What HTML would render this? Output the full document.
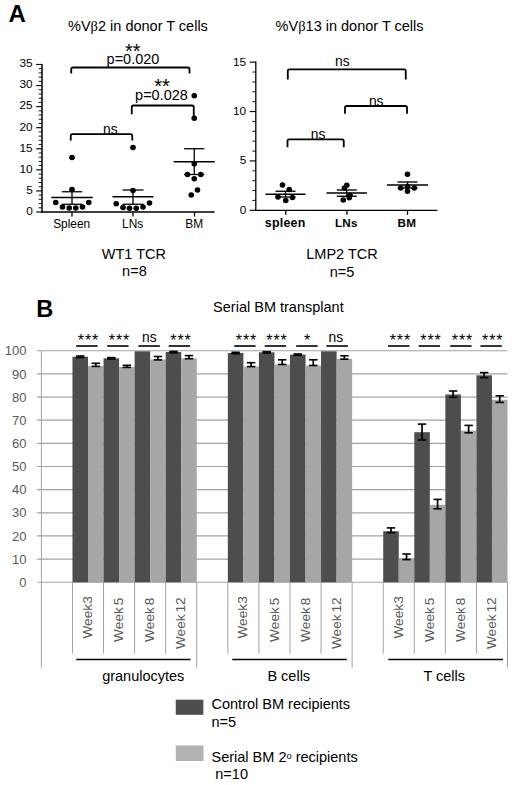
<!DOCTYPE html>
<html lang="en"><head><meta charset="utf-8"><title>Figure</title>
<style>html,body{margin:0;padding:0;background:#fff}svg{display:block}text{font-family:'Liberation Sans', Arial, sans-serif}</style>
</head><body>
<svg width="520" height="785" viewBox="0 0 520 785">
<rect width="520" height="785" fill="#fff"/>
<text x="8.6" y="21.6" font-size="24" text-anchor="start" font-weight="bold" fill="#000" >A</text>
<text x="68.0" y="31.2" font-size="14.5" text-anchor="start" font-weight="normal" fill="#000" >%V<tspan font-family="'Liberation Serif', serif">β</tspan>2 in donor T cells</text>
<line x1="42.0" y1="64" x2="42.0" y2="212.75" stroke="#000" stroke-width="1.5" stroke-linecap="butt"/>
<line x1="41.25" y1="212.0" x2="214.5" y2="212.0" stroke="#000" stroke-width="1.5" stroke-linecap="butt"/>
<line x1="36.2" y1="212.0" x2="42.0" y2="212.0" stroke="#000" stroke-width="1.15" stroke-linecap="butt"/>
<text x="32.7" y="214.8" font-size="11.8" text-anchor="end" font-weight="normal" fill="#000" >0</text>
<line x1="38.7" y1="207.785" x2="42.0" y2="207.785" stroke="#000" stroke-width="0.9" stroke-linecap="butt"/>
<line x1="38.7" y1="203.57" x2="42.0" y2="203.57" stroke="#000" stroke-width="0.9" stroke-linecap="butt"/>
<line x1="38.7" y1="199.355" x2="42.0" y2="199.355" stroke="#000" stroke-width="0.9" stroke-linecap="butt"/>
<line x1="38.7" y1="195.14" x2="42.0" y2="195.14" stroke="#000" stroke-width="0.9" stroke-linecap="butt"/>
<line x1="36.2" y1="190.925" x2="42.0" y2="190.925" stroke="#000" stroke-width="1.15" stroke-linecap="butt"/>
<text x="32.7" y="193.72500000000002" font-size="11.8" text-anchor="end" font-weight="normal" fill="#000" >5</text>
<line x1="38.7" y1="186.71" x2="42.0" y2="186.71" stroke="#000" stroke-width="0.9" stroke-linecap="butt"/>
<line x1="38.7" y1="182.495" x2="42.0" y2="182.495" stroke="#000" stroke-width="0.9" stroke-linecap="butt"/>
<line x1="38.7" y1="178.28" x2="42.0" y2="178.28" stroke="#000" stroke-width="0.9" stroke-linecap="butt"/>
<line x1="38.7" y1="174.065" x2="42.0" y2="174.065" stroke="#000" stroke-width="0.9" stroke-linecap="butt"/>
<line x1="36.2" y1="169.85" x2="42.0" y2="169.85" stroke="#000" stroke-width="1.15" stroke-linecap="butt"/>
<text x="32.7" y="172.65" font-size="11.8" text-anchor="end" font-weight="normal" fill="#000" >10</text>
<line x1="38.7" y1="165.635" x2="42.0" y2="165.635" stroke="#000" stroke-width="0.9" stroke-linecap="butt"/>
<line x1="38.7" y1="161.42000000000002" x2="42.0" y2="161.42000000000002" stroke="#000" stroke-width="0.9" stroke-linecap="butt"/>
<line x1="38.7" y1="157.20499999999998" x2="42.0" y2="157.20499999999998" stroke="#000" stroke-width="0.9" stroke-linecap="butt"/>
<line x1="38.7" y1="152.99" x2="42.0" y2="152.99" stroke="#000" stroke-width="0.9" stroke-linecap="butt"/>
<line x1="36.2" y1="148.775" x2="42.0" y2="148.775" stroke="#000" stroke-width="1.15" stroke-linecap="butt"/>
<text x="32.7" y="151.57500000000002" font-size="11.8" text-anchor="end" font-weight="normal" fill="#000" >15</text>
<line x1="38.7" y1="144.56" x2="42.0" y2="144.56" stroke="#000" stroke-width="0.9" stroke-linecap="butt"/>
<line x1="38.7" y1="140.345" x2="42.0" y2="140.345" stroke="#000" stroke-width="0.9" stroke-linecap="butt"/>
<line x1="38.7" y1="136.13" x2="42.0" y2="136.13" stroke="#000" stroke-width="0.9" stroke-linecap="butt"/>
<line x1="38.7" y1="131.91500000000002" x2="42.0" y2="131.91500000000002" stroke="#000" stroke-width="0.9" stroke-linecap="butt"/>
<line x1="36.2" y1="127.7" x2="42.0" y2="127.7" stroke="#000" stroke-width="1.15" stroke-linecap="butt"/>
<text x="32.7" y="130.5" font-size="11.8" text-anchor="end" font-weight="normal" fill="#000" >20</text>
<line x1="38.7" y1="123.485" x2="42.0" y2="123.485" stroke="#000" stroke-width="0.9" stroke-linecap="butt"/>
<line x1="38.7" y1="119.27000000000001" x2="42.0" y2="119.27000000000001" stroke="#000" stroke-width="0.9" stroke-linecap="butt"/>
<line x1="38.7" y1="115.055" x2="42.0" y2="115.055" stroke="#000" stroke-width="0.9" stroke-linecap="butt"/>
<line x1="38.7" y1="110.84" x2="42.0" y2="110.84" stroke="#000" stroke-width="0.9" stroke-linecap="butt"/>
<line x1="36.2" y1="106.625" x2="42.0" y2="106.625" stroke="#000" stroke-width="1.15" stroke-linecap="butt"/>
<text x="32.7" y="109.425" font-size="11.8" text-anchor="end" font-weight="normal" fill="#000" >25</text>
<line x1="38.7" y1="102.41" x2="42.0" y2="102.41" stroke="#000" stroke-width="0.9" stroke-linecap="butt"/>
<line x1="38.7" y1="98.19500000000001" x2="42.0" y2="98.19500000000001" stroke="#000" stroke-width="0.9" stroke-linecap="butt"/>
<line x1="38.7" y1="93.98" x2="42.0" y2="93.98" stroke="#000" stroke-width="0.9" stroke-linecap="butt"/>
<line x1="38.7" y1="89.765" x2="42.0" y2="89.765" stroke="#000" stroke-width="0.9" stroke-linecap="butt"/>
<line x1="36.2" y1="85.55000000000001" x2="42.0" y2="85.55000000000001" stroke="#000" stroke-width="1.15" stroke-linecap="butt"/>
<text x="32.7" y="88.35000000000001" font-size="11.8" text-anchor="end" font-weight="normal" fill="#000" >30</text>
<line x1="38.7" y1="81.33500000000001" x2="42.0" y2="81.33500000000001" stroke="#000" stroke-width="0.9" stroke-linecap="butt"/>
<line x1="38.7" y1="77.12" x2="42.0" y2="77.12" stroke="#000" stroke-width="0.9" stroke-linecap="butt"/>
<line x1="38.7" y1="72.905" x2="42.0" y2="72.905" stroke="#000" stroke-width="0.9" stroke-linecap="butt"/>
<line x1="38.7" y1="68.69" x2="42.0" y2="68.69" stroke="#000" stroke-width="0.9" stroke-linecap="butt"/>
<line x1="36.2" y1="64.475" x2="42.0" y2="64.475" stroke="#000" stroke-width="1.15" stroke-linecap="butt"/>
<text x="32.7" y="67.27499999999999" font-size="11.8" text-anchor="end" font-weight="normal" fill="#000" >35</text>
<line x1="72" y1="212.0" x2="72" y2="216.5" stroke="#000" stroke-width="1.3" stroke-linecap="butt"/>
<text x="71.7" y="227.7" font-size="11.9" text-anchor="middle" font-weight="normal" fill="#000" >Spleen</text>
<line x1="133" y1="212.0" x2="133" y2="216.5" stroke="#000" stroke-width="1.3" stroke-linecap="butt"/>
<text x="132.7" y="227.7" font-size="11.9" text-anchor="middle" font-weight="normal" fill="#000" >LNs</text>
<line x1="194.5" y1="212.0" x2="194.5" y2="216.5" stroke="#000" stroke-width="1.3" stroke-linecap="butt"/>
<text x="194.2" y="227.7" font-size="11.9" text-anchor="middle" font-weight="normal" fill="#000" >BM</text>
<text x="133.9" y="258.9" font-size="14.5" text-anchor="middle" font-weight="normal" fill="#000" >WT1 TCR</text>
<text x="134.4" y="275.75" font-size="14.5" text-anchor="middle" font-weight="normal" fill="#000" >n=8</text>
<line x1="51.3" y1="197.5" x2="92.7" y2="197.5" stroke="#000" stroke-width="1.3" stroke-linecap="butt"/>
<line x1="61.8" y1="191.75" x2="82.2" y2="191.75" stroke="#000" stroke-width="1.3" stroke-linecap="butt"/>
<line x1="61.8" y1="204.25" x2="82.2" y2="204.25" stroke="#000" stroke-width="1.3" stroke-linecap="butt"/>
<line x1="72" y1="191.75" x2="72" y2="204.25" stroke="#000" stroke-width="1.3" stroke-linecap="butt"/>
<circle cx="72" cy="157.5" r="2.8" fill="#000"/>
<circle cx="72" cy="189.5" r="2.8" fill="#000"/>
<circle cx="55.75" cy="202.5" r="2.8" fill="#000"/>
<circle cx="88.75" cy="202.5" r="2.8" fill="#000"/>
<circle cx="62.5" cy="207" r="2.8" fill="#000"/>
<circle cx="69.25" cy="208" r="2.8" fill="#000"/>
<circle cx="75.75" cy="208" r="2.8" fill="#000"/>
<circle cx="82.5" cy="207" r="2.8" fill="#000"/>
<line x1="112.5" y1="196.75" x2="153.5" y2="196.75" stroke="#000" stroke-width="1.3" stroke-linecap="butt"/>
<line x1="122.5" y1="190" x2="143.5" y2="190" stroke="#000" stroke-width="1.3" stroke-linecap="butt"/>
<line x1="122.5" y1="204.25" x2="143.5" y2="204.25" stroke="#000" stroke-width="1.3" stroke-linecap="butt"/>
<line x1="133" y1="190" x2="133" y2="204.25" stroke="#000" stroke-width="1.3" stroke-linecap="butt"/>
<circle cx="133" cy="147.5" r="2.8" fill="#000"/>
<circle cx="133" cy="190.5" r="2.8" fill="#000"/>
<circle cx="116.25" cy="203.75" r="2.8" fill="#000"/>
<circle cx="149.5" cy="203" r="2.8" fill="#000"/>
<circle cx="123" cy="207.5" r="2.8" fill="#000"/>
<circle cx="129.5" cy="208.25" r="2.8" fill="#000"/>
<circle cx="136.25" cy="208.25" r="2.8" fill="#000"/>
<circle cx="143" cy="207" r="2.8" fill="#000"/>
<line x1="173.65" y1="161.75" x2="214.85" y2="161.75" stroke="#000" stroke-width="1.3" stroke-linecap="butt"/>
<line x1="184.15" y1="148.75" x2="204.35" y2="148.75" stroke="#000" stroke-width="1.3" stroke-linecap="butt"/>
<line x1="184.15" y1="174.5" x2="204.35" y2="174.5" stroke="#000" stroke-width="1.3" stroke-linecap="butt"/>
<line x1="194.25" y1="148.75" x2="194.25" y2="174.5" stroke="#000" stroke-width="1.3" stroke-linecap="butt"/>
<circle cx="194.25" cy="95.75" r="2.8" fill="#000"/>
<circle cx="194.25" cy="118.25" r="2.8" fill="#000"/>
<circle cx="194.25" cy="163.75" r="2.8" fill="#000"/>
<circle cx="187.5" cy="174.5" r="2.8" fill="#000"/>
<circle cx="200.75" cy="174.5" r="2.8" fill="#000"/>
<circle cx="194.25" cy="178.75" r="2.8" fill="#000"/>
<circle cx="197.5" cy="190" r="2.8" fill="#000"/>
<circle cx="191.25" cy="195" r="2.8" fill="#000"/>
<path d="M71.25 73.5 V69.1 Q71.25 67.5 72.85 67.5 H187.9 Q189.5 67.5 189.5 69.1 V73.5" fill="none" stroke="#000" stroke-width="1.8" stroke-linejoin="round"/>
<path d="M131.75 114.3 V107.1 Q131.75 105.5 133.35 105.5 H192.15 Q193.75 105.5 193.75 107.1 V116" fill="none" stroke="#000" stroke-width="1.8" stroke-linejoin="round"/>
<path d="M70.75 140.4 V135.79999999999998 Q70.75 134.2 72.35 134.2 H130.65 Q132.25 134.2 132.25 135.79999999999998 V140.4" fill="none" stroke="#000" stroke-width="1.8" stroke-linejoin="round"/>
<text x="132.75" y="57.5" font-size="20" text-anchor="middle" font-weight="normal" fill="#000" >**</text>
<text x="133" y="63.8" font-size="14.5" text-anchor="middle" font-weight="normal" fill="#000" >p=0.020</text>
<text x="162" y="92.5" font-size="20" text-anchor="middle" font-weight="normal" fill="#000" >**</text>
<text x="161.5" y="100.3" font-size="14.5" text-anchor="middle" font-weight="normal" fill="#000" >p=0.028</text>
<text x="110.3" y="133.6" font-size="13.8" text-anchor="middle" font-weight="normal" fill="#000" >ns</text>
<text x="275.6" y="31.2" font-size="14.5" text-anchor="start" font-weight="normal" fill="#000" >%V<tspan font-family="'Liberation Serif', serif">β</tspan>13 in donor T cells</text>
<line x1="255.8" y1="61.5" x2="255.8" y2="210.9" stroke="#000" stroke-width="1.3" stroke-linecap="butt"/>
<line x1="255.15" y1="210.3" x2="437.5" y2="210.3" stroke="#000" stroke-width="1.3" stroke-linecap="butt"/>
<line x1="249.8" y1="210.3" x2="255.8" y2="210.3" stroke="#000" stroke-width="1.15" stroke-linecap="butt"/>
<text x="246.20000000000002" y="213.70000000000002" font-size="11.8" text-anchor="end" font-weight="normal" fill="#000" >0</text>
<line x1="252.3" y1="200.425" x2="255.8" y2="200.425" stroke="#000" stroke-width="0.9" stroke-linecap="butt"/>
<line x1="252.3" y1="190.55" x2="255.8" y2="190.55" stroke="#000" stroke-width="0.9" stroke-linecap="butt"/>
<line x1="252.3" y1="180.675" x2="255.8" y2="180.675" stroke="#000" stroke-width="0.9" stroke-linecap="butt"/>
<line x1="252.3" y1="170.8" x2="255.8" y2="170.8" stroke="#000" stroke-width="0.9" stroke-linecap="butt"/>
<line x1="249.8" y1="160.925" x2="255.8" y2="160.925" stroke="#000" stroke-width="1.15" stroke-linecap="butt"/>
<text x="246.20000000000002" y="164.32500000000002" font-size="11.8" text-anchor="end" font-weight="normal" fill="#000" >5</text>
<line x1="252.3" y1="151.05" x2="255.8" y2="151.05" stroke="#000" stroke-width="0.9" stroke-linecap="butt"/>
<line x1="252.3" y1="141.175" x2="255.8" y2="141.175" stroke="#000" stroke-width="0.9" stroke-linecap="butt"/>
<line x1="252.3" y1="131.3" x2="255.8" y2="131.3" stroke="#000" stroke-width="0.9" stroke-linecap="butt"/>
<line x1="252.3" y1="121.42500000000001" x2="255.8" y2="121.42500000000001" stroke="#000" stroke-width="0.9" stroke-linecap="butt"/>
<line x1="249.8" y1="111.55000000000001" x2="255.8" y2="111.55000000000001" stroke="#000" stroke-width="1.15" stroke-linecap="butt"/>
<text x="246.20000000000002" y="114.95000000000002" font-size="11.8" text-anchor="end" font-weight="normal" fill="#000" >10</text>
<line x1="252.3" y1="101.67500000000001" x2="255.8" y2="101.67500000000001" stroke="#000" stroke-width="0.9" stroke-linecap="butt"/>
<line x1="252.3" y1="91.80000000000001" x2="255.8" y2="91.80000000000001" stroke="#000" stroke-width="0.9" stroke-linecap="butt"/>
<line x1="252.3" y1="81.92500000000001" x2="255.8" y2="81.92500000000001" stroke="#000" stroke-width="0.9" stroke-linecap="butt"/>
<line x1="252.3" y1="72.05000000000001" x2="255.8" y2="72.05000000000001" stroke="#000" stroke-width="0.9" stroke-linecap="butt"/>
<line x1="249.8" y1="62.17500000000001" x2="255.8" y2="62.17500000000001" stroke="#000" stroke-width="1.15" stroke-linecap="butt"/>
<text x="246.20000000000002" y="65.57500000000002" font-size="11.8" text-anchor="end" font-weight="normal" fill="#000" >15</text>
<line x1="285.75" y1="210.3" x2="285.75" y2="214.8" stroke="#000" stroke-width="1.3" stroke-linecap="butt"/>
<text x="285.15" y="227.0" font-size="12.4" text-anchor="middle" font-weight="bold" fill="#000" letter-spacing="0.25">spleen</text>
<line x1="347" y1="210.3" x2="347" y2="214.8" stroke="#000" stroke-width="1.3" stroke-linecap="butt"/>
<text x="346.4" y="227.0" font-size="11.7" text-anchor="middle" font-weight="bold" fill="#000" letter-spacing="0.25">LNs</text>
<line x1="407.5" y1="210.3" x2="407.5" y2="214.8" stroke="#000" stroke-width="1.3" stroke-linecap="butt"/>
<text x="406.9" y="227.0" font-size="11.7" text-anchor="middle" font-weight="bold" fill="#000" letter-spacing="0.25">BM</text>
<text x="342" y="258.9" font-size="14.5" text-anchor="middle" font-weight="normal" fill="#000" >LMP2 TCR</text>
<text x="342" y="276.7" font-size="14.5" text-anchor="middle" font-weight="normal" fill="#000" >n=5</text>
<line x1="265.5" y1="194.25" x2="305.5" y2="194.25" stroke="#000" stroke-width="1.35" stroke-linecap="butt"/>
<line x1="275.5" y1="191.25" x2="295.5" y2="191.25" stroke="#000" stroke-width="1.35" stroke-linecap="butt"/>
<line x1="275.5" y1="197" x2="295.5" y2="197" stroke="#000" stroke-width="1.35" stroke-linecap="butt"/>
<line x1="285.5" y1="191.25" x2="285.5" y2="197" stroke="#000" stroke-width="1.35" stroke-linecap="butt"/>
<circle cx="282.5" cy="185" r="2.8" fill="#000"/>
<circle cx="289.25" cy="189.5" r="2.8" fill="#000"/>
<circle cx="278" cy="197" r="2.8" fill="#000"/>
<circle cx="292.5" cy="197.5" r="2.8" fill="#000"/>
<circle cx="285.75" cy="200.5" r="2.8" fill="#000"/>
<line x1="326.55" y1="193" x2="366.95" y2="193" stroke="#000" stroke-width="1.35" stroke-linecap="butt"/>
<line x1="336.75" y1="190" x2="356.75" y2="190" stroke="#000" stroke-width="1.35" stroke-linecap="butt"/>
<line x1="336.75" y1="196.25" x2="356.75" y2="196.25" stroke="#000" stroke-width="1.35" stroke-linecap="butt"/>
<line x1="346.75" y1="190" x2="346.75" y2="196.25" stroke="#000" stroke-width="1.35" stroke-linecap="butt"/>
<circle cx="346.75" cy="185.25" r="2.8" fill="#000"/>
<circle cx="344.4" cy="188" r="2.8" fill="#000"/>
<circle cx="350" cy="195.25" r="2.8" fill="#000"/>
<circle cx="349.25" cy="197.75" r="2.8" fill="#000"/>
<circle cx="343.25" cy="200" r="2.8" fill="#000"/>
<line x1="386.9" y1="185" x2="428.1" y2="185" stroke="#000" stroke-width="1.35" stroke-linecap="butt"/>
<line x1="397.5" y1="182" x2="417.5" y2="182" stroke="#000" stroke-width="1.35" stroke-linecap="butt"/>
<line x1="397.5" y1="188" x2="417.5" y2="188" stroke="#000" stroke-width="1.35" stroke-linecap="butt"/>
<line x1="407.5" y1="182" x2="407.5" y2="188" stroke="#000" stroke-width="1.35" stroke-linecap="butt"/>
<circle cx="407.5" cy="174.25" r="2.8" fill="#000"/>
<circle cx="400.75" cy="188" r="2.8" fill="#000"/>
<circle cx="414.25" cy="188" r="2.8" fill="#000"/>
<circle cx="407.5" cy="191.25" r="2.8" fill="#000"/>
<circle cx="407.5" cy="186.5" r="2.8" fill="#000"/>
<path d="M287.8 79.5 V71.0 Q287.8 69.4 289.40000000000003 69.4 H404.15 Q405.75 69.4 405.75 71.0 V79.5" fill="none" stroke="#000" stroke-width="1.8" stroke-linejoin="round"/>
<path d="M345 113.8 V107.6 Q345 106 346.6 106 H405.4 Q407 106 407 107.6 V113.8" fill="none" stroke="#000" stroke-width="1.8" stroke-linejoin="round"/>
<path d="M287.5 147.2 V140.9 Q287.5 139.3 289.1 139.3 H342.15 Q343.75 139.3 343.75 140.9 V147.2" fill="none" stroke="#000" stroke-width="1.8" stroke-linejoin="round"/>
<text x="342.4" y="65.5" font-size="13.8" text-anchor="middle" font-weight="normal" fill="#000" >ns</text>
<text x="376.2" y="105.6" font-size="13.8" text-anchor="middle" font-weight="normal" fill="#000" >ns</text>
<text x="318" y="139.0" font-size="13.8" text-anchor="middle" font-weight="normal" fill="#000" >ns</text>
<text x="36.3" y="317.0" font-size="23.6" text-anchor="start" font-weight="bold" fill="#000" >B</text>
<text x="278.4" y="311.7" font-size="14.5" text-anchor="middle" font-weight="normal" fill="#000" >Serial BM transplant</text>
<line x1="37.0" y1="582.25" x2="507.5" y2="582.25" stroke="#a3a3a3" stroke-width="1.2" stroke-linecap="butt"/>
<text x="26.4" y="586.85" font-size="13" text-anchor="end" font-weight="normal" fill="#595959" >0</text>
<line x1="37.0" y1="559.1" x2="507.5" y2="559.1" stroke="#a3a3a3" stroke-width="1.2" stroke-linecap="butt"/>
<text x="26.4" y="563.7" font-size="13" text-anchor="end" font-weight="normal" fill="#595959" >10</text>
<line x1="37.0" y1="535.95" x2="507.5" y2="535.95" stroke="#a3a3a3" stroke-width="1.2" stroke-linecap="butt"/>
<text x="26.4" y="540.5500000000001" font-size="13" text-anchor="end" font-weight="normal" fill="#595959" >20</text>
<line x1="37.0" y1="512.8" x2="507.5" y2="512.8" stroke="#a3a3a3" stroke-width="1.2" stroke-linecap="butt"/>
<text x="26.4" y="517.4" font-size="13" text-anchor="end" font-weight="normal" fill="#595959" >30</text>
<line x1="37.0" y1="489.65" x2="507.5" y2="489.65" stroke="#a3a3a3" stroke-width="1.2" stroke-linecap="butt"/>
<text x="26.4" y="494.25" font-size="13" text-anchor="end" font-weight="normal" fill="#595959" >40</text>
<line x1="37.0" y1="466.5" x2="507.5" y2="466.5" stroke="#a3a3a3" stroke-width="1.2" stroke-linecap="butt"/>
<text x="26.4" y="471.1" font-size="13" text-anchor="end" font-weight="normal" fill="#595959" >50</text>
<line x1="37.0" y1="443.35" x2="507.5" y2="443.35" stroke="#a3a3a3" stroke-width="1.2" stroke-linecap="butt"/>
<text x="26.4" y="447.95000000000005" font-size="13" text-anchor="end" font-weight="normal" fill="#595959" >60</text>
<line x1="37.0" y1="420.20000000000005" x2="507.5" y2="420.20000000000005" stroke="#a3a3a3" stroke-width="1.2" stroke-linecap="butt"/>
<text x="26.4" y="424.80000000000007" font-size="13" text-anchor="end" font-weight="normal" fill="#595959" >70</text>
<line x1="37.0" y1="397.05" x2="507.5" y2="397.05" stroke="#a3a3a3" stroke-width="1.2" stroke-linecap="butt"/>
<text x="26.4" y="401.65000000000003" font-size="13" text-anchor="end" font-weight="normal" fill="#595959" >80</text>
<line x1="37.0" y1="373.9" x2="507.5" y2="373.9" stroke="#a3a3a3" stroke-width="1.2" stroke-linecap="butt"/>
<text x="26.4" y="378.5" font-size="13" text-anchor="end" font-weight="normal" fill="#595959" >90</text>
<line x1="37.0" y1="350.75" x2="507.5" y2="350.75" stroke="#a3a3a3" stroke-width="1.2" stroke-linecap="butt"/>
<text x="26.4" y="355.35" font-size="13" text-anchor="end" font-weight="normal" fill="#595959" >100</text>
<line x1="41.4" y1="350.75" x2="41.4" y2="667.5" stroke="#a3a3a3" stroke-width="1" stroke-linecap="butt"/>
<rect x="72.47" y="356.75" width="15.54" height="225.50" fill="#4d4d4d"/>
<rect x="88.01" y="366.00" width="15.54" height="216.25" fill="#a6a6a6"/>
<line x1="80.24166666666666" y1="356.0" x2="80.24166666666666" y2="357.5" stroke="#000" stroke-width="1.7" stroke-linecap="butt"/>
<line x1="76.04166666666666" y1="356.0" x2="84.44166666666666" y2="356.0" stroke="#000" stroke-width="1.6" stroke-linecap="butt"/>
<line x1="76.04166666666666" y1="357.5" x2="84.44166666666666" y2="357.5" stroke="#000" stroke-width="1.6" stroke-linecap="butt"/>
<line x1="95.77833333333332" y1="363.3" x2="95.77833333333332" y2="366.4" stroke="#000" stroke-width="1.7" stroke-linecap="butt"/>
<line x1="91.57833333333332" y1="363.3" x2="99.97833333333332" y2="363.3" stroke="#000" stroke-width="1.6" stroke-linecap="butt"/>
<line x1="91.57833333333332" y1="366.4" x2="99.97833333333332" y2="366.4" stroke="#000" stroke-width="1.6" stroke-linecap="butt"/>
<line x1="72.47333333333333" y1="582.25" x2="72.47333333333333" y2="653.75" stroke="#a3a3a3" stroke-width="1" stroke-linecap="butt"/>
<text transform="translate(92.11,617.40) rotate(-90)" font-size="13.7" text-anchor="middle" word-spacing="-2.0" fill="#595959">Week3</text>
<line x1="76.2" y1="346.0" x2="97.60000000000001" y2="346.0" stroke="#000" stroke-width="1.6" stroke-linecap="butt"/>
<text x="88.5" y="345.7" font-size="16" text-anchor="middle" font-weight="normal" fill="#000" letter-spacing="0.9">***</text>
<rect x="103.55" y="358.30" width="15.54" height="223.95" fill="#4d4d4d"/>
<rect x="119.08" y="367.00" width="15.54" height="215.25" fill="#a6a6a6"/>
<line x1="111.315" y1="357.6" x2="111.315" y2="359.0" stroke="#000" stroke-width="1.7" stroke-linecap="butt"/>
<line x1="107.115" y1="357.6" x2="115.515" y2="357.6" stroke="#000" stroke-width="1.6" stroke-linecap="butt"/>
<line x1="107.115" y1="359.0" x2="115.515" y2="359.0" stroke="#000" stroke-width="1.6" stroke-linecap="butt"/>
<line x1="126.85166666666666" y1="365.3" x2="126.85166666666666" y2="367.4" stroke="#000" stroke-width="1.7" stroke-linecap="butt"/>
<line x1="122.65166666666666" y1="365.3" x2="131.05166666666665" y2="365.3" stroke="#000" stroke-width="1.6" stroke-linecap="butt"/>
<line x1="122.65166666666666" y1="367.4" x2="131.05166666666665" y2="367.4" stroke="#000" stroke-width="1.6" stroke-linecap="butt"/>
<line x1="103.54666666666667" y1="582.25" x2="103.54666666666667" y2="653.75" stroke="#a3a3a3" stroke-width="1" stroke-linecap="butt"/>
<text transform="translate(123.18,619.80) rotate(-90)" font-size="13.7" text-anchor="middle" word-spacing="-2.0" fill="#595959">Week 5</text>
<line x1="107.2" y1="346.0" x2="128.6" y2="346.0" stroke="#000" stroke-width="1.6" stroke-linecap="butt"/>
<text x="119.5" y="345.7" font-size="16" text-anchor="middle" font-weight="normal" fill="#000" letter-spacing="0.9">***</text>
<rect x="134.62" y="351.30" width="15.54" height="230.95" fill="#4d4d4d"/>
<rect x="150.16" y="359.50" width="15.54" height="222.75" fill="#a6a6a6"/>
<line x1="157.925" y1="356.5" x2="157.925" y2="359.9" stroke="#000" stroke-width="1.7" stroke-linecap="butt"/>
<line x1="153.72500000000002" y1="356.5" x2="162.125" y2="356.5" stroke="#000" stroke-width="1.6" stroke-linecap="butt"/>
<line x1="153.72500000000002" y1="359.9" x2="162.125" y2="359.9" stroke="#000" stroke-width="1.6" stroke-linecap="butt"/>
<line x1="134.62" y1="582.25" x2="134.62" y2="653.75" stroke="#a3a3a3" stroke-width="1" stroke-linecap="butt"/>
<text transform="translate(154.26,619.80) rotate(-90)" font-size="13.7" text-anchor="middle" word-spacing="-2.0" fill="#595959">Week 8</text>
<line x1="138.4" y1="346.0" x2="159.79999999999998" y2="346.0" stroke="#000" stroke-width="1.6" stroke-linecap="butt"/>
<text x="149.4" y="341.6" font-size="13.8" text-anchor="middle" font-weight="normal" fill="#000" >ns</text>
<rect x="165.69" y="352.00" width="15.54" height="230.25" fill="#4d4d4d"/>
<rect x="181.23" y="358.30" width="15.54" height="223.95" fill="#a6a6a6"/>
<line x1="173.46166666666667" y1="351.4" x2="173.46166666666667" y2="352.8" stroke="#000" stroke-width="1.7" stroke-linecap="butt"/>
<line x1="169.26166666666668" y1="351.4" x2="177.66166666666666" y2="351.4" stroke="#000" stroke-width="1.6" stroke-linecap="butt"/>
<line x1="169.26166666666668" y1="352.8" x2="177.66166666666666" y2="352.8" stroke="#000" stroke-width="1.6" stroke-linecap="butt"/>
<line x1="188.99833333333333" y1="355.6" x2="188.99833333333333" y2="358.7" stroke="#000" stroke-width="1.7" stroke-linecap="butt"/>
<line x1="184.79833333333335" y1="355.6" x2="193.19833333333332" y2="355.6" stroke="#000" stroke-width="1.6" stroke-linecap="butt"/>
<line x1="184.79833333333335" y1="358.7" x2="193.19833333333332" y2="358.7" stroke="#000" stroke-width="1.6" stroke-linecap="butt"/>
<line x1="165.69333333333333" y1="582.25" x2="165.69333333333333" y2="653.75" stroke="#a3a3a3" stroke-width="1" stroke-linecap="butt"/>
<text transform="translate(185.33,623.20) rotate(-90)" font-size="13.7" text-anchor="middle" word-spacing="-2.0" fill="#595959">Week 12</text>
<line x1="168.70000000000002" y1="346.0" x2="190.1" y2="346.0" stroke="#000" stroke-width="1.6" stroke-linecap="butt"/>
<text x="181.0" y="345.7" font-size="16" text-anchor="middle" font-weight="normal" fill="#000" letter-spacing="0.9">***</text>
<line x1="196.76666666666668" y1="582.25" x2="196.76666666666668" y2="667.5" stroke="#a3a3a3" stroke-width="1" stroke-linecap="butt"/>
<line x1="76.25" y1="659.5" x2="190.5" y2="659.5" stroke="#000" stroke-width="1.6" stroke-linecap="butt"/>
<text x="143.25" y="680.6" font-size="14.5" text-anchor="middle" font-weight="normal" fill="#000" >granulocytes</text>
<rect x="227.84" y="353.00" width="15.54" height="229.25" fill="#4d4d4d"/>
<rect x="243.38" y="366.60" width="15.54" height="215.65" fill="#a6a6a6"/>
<line x1="235.60833333333335" y1="352.3" x2="235.60833333333335" y2="353.7" stroke="#000" stroke-width="1.7" stroke-linecap="butt"/>
<line x1="231.40833333333336" y1="352.3" x2="239.80833333333334" y2="352.3" stroke="#000" stroke-width="1.6" stroke-linecap="butt"/>
<line x1="231.40833333333336" y1="353.7" x2="239.80833333333334" y2="353.7" stroke="#000" stroke-width="1.6" stroke-linecap="butt"/>
<line x1="251.145" y1="362.7" x2="251.145" y2="366.6" stroke="#000" stroke-width="1.7" stroke-linecap="butt"/>
<line x1="246.94500000000002" y1="362.7" x2="255.345" y2="362.7" stroke="#000" stroke-width="1.6" stroke-linecap="butt"/>
<line x1="246.94500000000002" y1="366.6" x2="255.345" y2="366.6" stroke="#000" stroke-width="1.6" stroke-linecap="butt"/>
<line x1="227.84" y1="582.25" x2="227.84" y2="653.75" stroke="#a3a3a3" stroke-width="1" stroke-linecap="butt"/>
<text transform="translate(247.48,617.40) rotate(-90)" font-size="13.7" text-anchor="middle" word-spacing="-2.0" fill="#595959">Week3</text>
<line x1="234.20000000000002" y1="346.0" x2="255.6" y2="346.0" stroke="#000" stroke-width="1.6" stroke-linecap="butt"/>
<text x="246.5" y="345.7" font-size="16" text-anchor="middle" font-weight="normal" fill="#000" letter-spacing="0.9">***</text>
<rect x="258.91" y="352.30" width="15.54" height="229.95" fill="#4d4d4d"/>
<rect x="274.45" y="364.60" width="15.54" height="217.65" fill="#a6a6a6"/>
<line x1="266.6816666666667" y1="351.7" x2="266.6816666666667" y2="353.0" stroke="#000" stroke-width="1.7" stroke-linecap="butt"/>
<line x1="262.4816666666667" y1="351.7" x2="270.88166666666666" y2="351.7" stroke="#000" stroke-width="1.6" stroke-linecap="butt"/>
<line x1="262.4816666666667" y1="353.0" x2="270.88166666666666" y2="353.0" stroke="#000" stroke-width="1.6" stroke-linecap="butt"/>
<line x1="282.21833333333336" y1="359.8" x2="282.21833333333336" y2="364.5" stroke="#000" stroke-width="1.7" stroke-linecap="butt"/>
<line x1="278.0183333333334" y1="359.8" x2="286.41833333333335" y2="359.8" stroke="#000" stroke-width="1.6" stroke-linecap="butt"/>
<line x1="278.0183333333334" y1="364.5" x2="286.41833333333335" y2="364.5" stroke="#000" stroke-width="1.6" stroke-linecap="butt"/>
<line x1="258.91333333333336" y1="582.25" x2="258.91333333333336" y2="653.75" stroke="#a3a3a3" stroke-width="1" stroke-linecap="butt"/>
<text transform="translate(278.55,619.80) rotate(-90)" font-size="13.7" text-anchor="middle" word-spacing="-2.0" fill="#595959">Week 5</text>
<line x1="264.7" y1="346.0" x2="286.09999999999997" y2="346.0" stroke="#000" stroke-width="1.6" stroke-linecap="butt"/>
<text x="277.0" y="345.7" font-size="16" text-anchor="middle" font-weight="normal" fill="#000" letter-spacing="0.9">***</text>
<rect x="289.99" y="354.60" width="15.54" height="227.65" fill="#4d4d4d"/>
<rect x="305.52" y="365.60" width="15.54" height="216.65" fill="#a6a6a6"/>
<line x1="297.755" y1="354.0" x2="297.755" y2="355.3" stroke="#000" stroke-width="1.7" stroke-linecap="butt"/>
<line x1="293.555" y1="354.0" x2="301.955" y2="354.0" stroke="#000" stroke-width="1.6" stroke-linecap="butt"/>
<line x1="293.555" y1="355.3" x2="301.955" y2="355.3" stroke="#000" stroke-width="1.6" stroke-linecap="butt"/>
<line x1="313.2916666666667" y1="359.8" x2="313.2916666666667" y2="365.5" stroke="#000" stroke-width="1.7" stroke-linecap="butt"/>
<line x1="309.0916666666667" y1="359.8" x2="317.4916666666667" y2="359.8" stroke="#000" stroke-width="1.6" stroke-linecap="butt"/>
<line x1="309.0916666666667" y1="365.5" x2="317.4916666666667" y2="365.5" stroke="#000" stroke-width="1.6" stroke-linecap="butt"/>
<line x1="289.9866666666667" y1="582.25" x2="289.9866666666667" y2="653.75" stroke="#a3a3a3" stroke-width="1" stroke-linecap="butt"/>
<text transform="translate(309.62,619.80) rotate(-90)" font-size="13.7" text-anchor="middle" word-spacing="-2.0" fill="#595959">Week 8</text>
<line x1="296.2" y1="346.0" x2="317.59999999999997" y2="346.0" stroke="#000" stroke-width="1.6" stroke-linecap="butt"/>
<text x="307.59999999999997" y="345.7" font-size="16" text-anchor="middle" font-weight="normal" fill="#000" letter-spacing="0.9">*</text>
<rect x="321.06" y="351.30" width="15.54" height="230.95" fill="#4d4d4d"/>
<rect x="336.60" y="358.90" width="15.54" height="223.35" fill="#a6a6a6"/>
<line x1="344.365" y1="355.75" x2="344.365" y2="359.2" stroke="#000" stroke-width="1.7" stroke-linecap="butt"/>
<line x1="340.165" y1="355.75" x2="348.565" y2="355.75" stroke="#000" stroke-width="1.6" stroke-linecap="butt"/>
<line x1="340.165" y1="359.2" x2="348.565" y2="359.2" stroke="#000" stroke-width="1.6" stroke-linecap="butt"/>
<line x1="321.06" y1="582.25" x2="321.06" y2="653.75" stroke="#a3a3a3" stroke-width="1" stroke-linecap="butt"/>
<text transform="translate(340.70,623.20) rotate(-90)" font-size="13.7" text-anchor="middle" word-spacing="-2.0" fill="#595959">Week 12</text>
<line x1="326.40000000000003" y1="346.0" x2="347.8" y2="346.0" stroke="#000" stroke-width="1.6" stroke-linecap="butt"/>
<text x="335.8" y="341.6" font-size="13.8" text-anchor="middle" font-weight="normal" fill="#000" >ns</text>
<line x1="352.1333333333333" y1="582.25" x2="352.1333333333333" y2="667.5" stroke="#a3a3a3" stroke-width="1" stroke-linecap="butt"/>
<line x1="232.3" y1="659.5" x2="346.8" y2="659.5" stroke="#000" stroke-width="1.6" stroke-linecap="butt"/>
<text x="288.75" y="680.6" font-size="14.5" text-anchor="middle" font-weight="normal" fill="#000" >B cells</text>
<rect x="383.21" y="531.20" width="15.54" height="51.05" fill="#4d4d4d"/>
<rect x="398.74" y="558.10" width="15.54" height="24.15" fill="#a6a6a6"/>
<line x1="390.97499999999997" y1="527.9" x2="390.97499999999997" y2="532.7" stroke="#000" stroke-width="1.7" stroke-linecap="butt"/>
<line x1="386.775" y1="527.9" x2="395.17499999999995" y2="527.9" stroke="#000" stroke-width="1.6" stroke-linecap="butt"/>
<line x1="386.775" y1="532.7" x2="395.17499999999995" y2="532.7" stroke="#000" stroke-width="1.6" stroke-linecap="butt"/>
<line x1="406.51166666666666" y1="554.0" x2="406.51166666666666" y2="559.6" stroke="#000" stroke-width="1.7" stroke-linecap="butt"/>
<line x1="402.31166666666667" y1="554.0" x2="410.71166666666664" y2="554.0" stroke="#000" stroke-width="1.6" stroke-linecap="butt"/>
<line x1="402.31166666666667" y1="559.6" x2="410.71166666666664" y2="559.6" stroke="#000" stroke-width="1.6" stroke-linecap="butt"/>
<line x1="383.20666666666665" y1="582.25" x2="383.20666666666665" y2="653.75" stroke="#a3a3a3" stroke-width="1" stroke-linecap="butt"/>
<text transform="translate(402.84,617.40) rotate(-90)" font-size="13.7" text-anchor="middle" word-spacing="-2.0" fill="#595959">Week3</text>
<line x1="388.05" y1="346.0" x2="409.45" y2="346.0" stroke="#000" stroke-width="1.6" stroke-linecap="butt"/>
<text x="400.35" y="345.7" font-size="16" text-anchor="middle" font-weight="normal" fill="#000" letter-spacing="0.9">***</text>
<rect x="414.28" y="432.20" width="15.54" height="150.05" fill="#4d4d4d"/>
<rect x="429.82" y="504.80" width="15.54" height="77.45" fill="#a6a6a6"/>
<line x1="422.0483333333333" y1="424.1" x2="422.0483333333333" y2="440.0" stroke="#000" stroke-width="1.7" stroke-linecap="butt"/>
<line x1="417.8483333333333" y1="424.1" x2="426.2483333333333" y2="424.1" stroke="#000" stroke-width="1.6" stroke-linecap="butt"/>
<line x1="417.8483333333333" y1="440.0" x2="426.2483333333333" y2="440.0" stroke="#000" stroke-width="1.6" stroke-linecap="butt"/>
<line x1="437.585" y1="499.4" x2="437.585" y2="508.8" stroke="#000" stroke-width="1.7" stroke-linecap="butt"/>
<line x1="433.385" y1="499.4" x2="441.78499999999997" y2="499.4" stroke="#000" stroke-width="1.6" stroke-linecap="butt"/>
<line x1="433.385" y1="508.8" x2="441.78499999999997" y2="508.8" stroke="#000" stroke-width="1.6" stroke-linecap="butt"/>
<line x1="414.28" y1="582.25" x2="414.28" y2="653.75" stroke="#a3a3a3" stroke-width="1" stroke-linecap="butt"/>
<text transform="translate(433.92,619.80) rotate(-90)" font-size="13.7" text-anchor="middle" word-spacing="-2.0" fill="#595959">Week 5</text>
<line x1="418.7" y1="346.0" x2="440.09999999999997" y2="346.0" stroke="#000" stroke-width="1.6" stroke-linecap="butt"/>
<text x="431.0" y="345.7" font-size="16" text-anchor="middle" font-weight="normal" fill="#000" letter-spacing="0.9">***</text>
<rect x="445.35" y="394.50" width="15.54" height="187.75" fill="#4d4d4d"/>
<rect x="460.89" y="430.60" width="15.54" height="151.65" fill="#a6a6a6"/>
<line x1="453.1216666666666" y1="391.0" x2="453.1216666666666" y2="397.3" stroke="#000" stroke-width="1.7" stroke-linecap="butt"/>
<line x1="448.9216666666666" y1="391.0" x2="457.3216666666666" y2="391.0" stroke="#000" stroke-width="1.6" stroke-linecap="butt"/>
<line x1="448.9216666666666" y1="397.3" x2="457.3216666666666" y2="397.3" stroke="#000" stroke-width="1.6" stroke-linecap="butt"/>
<line x1="468.6583333333333" y1="425.4" x2="468.6583333333333" y2="432.8" stroke="#000" stroke-width="1.7" stroke-linecap="butt"/>
<line x1="464.4583333333333" y1="425.4" x2="472.8583333333333" y2="425.4" stroke="#000" stroke-width="1.6" stroke-linecap="butt"/>
<line x1="464.4583333333333" y1="432.8" x2="472.8583333333333" y2="432.8" stroke="#000" stroke-width="1.6" stroke-linecap="butt"/>
<line x1="445.3533333333333" y1="582.25" x2="445.3533333333333" y2="653.75" stroke="#a3a3a3" stroke-width="1" stroke-linecap="butt"/>
<text transform="translate(464.99,619.80) rotate(-90)" font-size="13.7" text-anchor="middle" word-spacing="-2.0" fill="#595959">Week 8</text>
<line x1="450.2" y1="346.0" x2="471.59999999999997" y2="346.0" stroke="#000" stroke-width="1.6" stroke-linecap="butt"/>
<text x="462.5" y="345.7" font-size="16" text-anchor="middle" font-weight="normal" fill="#000" letter-spacing="0.9">***</text>
<rect x="476.43" y="375.30" width="15.54" height="206.95" fill="#4d4d4d"/>
<rect x="491.96" y="399.80" width="15.54" height="182.45" fill="#a6a6a6"/>
<line x1="484.195" y1="372.6" x2="484.195" y2="377.6" stroke="#000" stroke-width="1.7" stroke-linecap="butt"/>
<line x1="479.995" y1="372.6" x2="488.395" y2="372.6" stroke="#000" stroke-width="1.6" stroke-linecap="butt"/>
<line x1="479.995" y1="377.6" x2="488.395" y2="377.6" stroke="#000" stroke-width="1.6" stroke-linecap="butt"/>
<line x1="499.7316666666667" y1="395.8" x2="499.7316666666667" y2="402.4" stroke="#000" stroke-width="1.7" stroke-linecap="butt"/>
<line x1="495.5316666666667" y1="395.8" x2="503.9316666666667" y2="395.8" stroke="#000" stroke-width="1.6" stroke-linecap="butt"/>
<line x1="495.5316666666667" y1="402.4" x2="503.9316666666667" y2="402.4" stroke="#000" stroke-width="1.6" stroke-linecap="butt"/>
<line x1="476.4266666666667" y1="582.25" x2="476.4266666666667" y2="653.75" stroke="#a3a3a3" stroke-width="1" stroke-linecap="butt"/>
<text transform="translate(496.06,623.20) rotate(-90)" font-size="13.7" text-anchor="middle" word-spacing="-2.0" fill="#595959">Week 12</text>
<line x1="480.40000000000003" y1="346.0" x2="501.8" y2="346.0" stroke="#000" stroke-width="1.6" stroke-linecap="butt"/>
<text x="492.70000000000005" y="345.7" font-size="16" text-anchor="middle" font-weight="normal" fill="#000" letter-spacing="0.9">***</text>
<line x1="507.5" y1="582.25" x2="507.5" y2="667.5" stroke="#a3a3a3" stroke-width="1" stroke-linecap="butt"/>
<line x1="388.3" y1="659.5" x2="503.0" y2="659.5" stroke="#000" stroke-width="1.6" stroke-linecap="butt"/>
<text x="444.2" y="680.6" font-size="14.5" text-anchor="middle" font-weight="normal" fill="#000" >T cells</text>
<rect x="175.75" y="699.7" width="27.6" height="15.1" fill="#4d4d4d"/>
<rect x="175.75" y="745.5" width="27.75" height="15.5" fill="#b2b2b2"/>
<text x="211.5" y="709.1" font-size="14.5" text-anchor="start" font-weight="normal" fill="#000" >Control BM recipients</text>
<text x="211.5" y="726.8" font-size="14.5" text-anchor="start" font-weight="normal" fill="#000" >n=5</text>
<text x="211.5" y="761.7" font-size="14.5" text-anchor="start" font-weight="normal" fill="#000" >Serial BM 2<tspan font-size="9.3" dy="-2.8">o</tspan><tspan dy="2.8"> recipients</tspan></text>
<text x="215.3" y="778.75" font-size="14.5" text-anchor="start" font-weight="normal" fill="#000" >n=10</text>
</svg></body></html>
